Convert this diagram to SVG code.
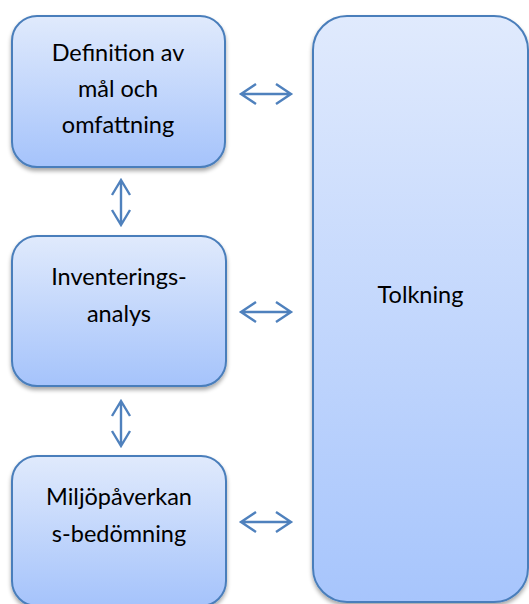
<svg xmlns="http://www.w3.org/2000/svg" width="529" height="604" viewBox="0 0 529 604">
  <style>
    .box { stroke: #4A7EBB; stroke-width: 2; filter: url(#shadow); }
    .lbl { font-family: Lato, "Open Sans", "Liberation Sans", sans-serif; font-size: 23.5px; fill: #000; text-anchor: middle; }
    .arr { fill: none; stroke: #4F81BD; stroke-width: 2.4; stroke-linecap: butt; stroke-linejoin: miter; }
  </style>
  <defs>
    <linearGradient id="fillSmall" x1="0" y1="0" x2="0" y2="1">
      <stop offset="0" stop-color="#E0EAFC"/>
      <stop offset="1" stop-color="#A5C3FB"/>
    </linearGradient>
    <linearGradient id="fillTall" x1="0" y1="0" x2="0" y2="1">
      <stop offset="0" stop-color="#E0EAFD"/>
      <stop offset="1" stop-color="#A7C5FC"/>
    </linearGradient>
    <filter id="shadow" x="-10%" y="-10%" width="120%" height="125%">
      <feGaussianBlur in="SourceAlpha" stdDeviation="2.2"/>
      <feOffset dx="0" dy="3" result="b"/>
      <feComponentTransfer><feFuncA type="linear" slope="0.35"/></feComponentTransfer>
      <feMerge><feMergeNode/><feMergeNode in="SourceGraphic"/></feMerge>
    </filter>
  </defs>

  <g id="tolkning">
    <rect class="box" x="313" y="16" width="215" height="586" rx="34" fill="url(#fillTall)"/>
    <text class="lbl" x="420.5" y="303">Tolkning</text>
  </g>

  <g id="definition">
    <rect class="box" x="12" y="16" width="213" height="151" rx="25" fill="url(#fillSmall)"/>
    <text class="lbl" x="118" y="61">Definition av</text>
    <text class="lbl" x="118" y="97">mål och</text>
    <text class="lbl" x="118" y="133">omfattning</text>
  </g>

  <g id="inventering">
    <rect class="box" x="12" y="236" width="214" height="150" rx="25" fill="url(#fillSmall)"/>
    <text class="lbl" x="119" y="285">Inventerings-</text>
    <text class="lbl" x="119" y="322">analys</text>
  </g>

  <g id="miljopaverkan">
    <rect class="box" x="12" y="456" width="214" height="150" rx="25" fill="url(#fillSmall)"/>
    <text class="lbl" x="119" y="505">Miljöpåverkan</text>
    <text class="lbl" x="119" y="542">s-bedömning</text>
  </g>

  <g id="connectors">
    <!-- horizontal double arrows towards Tolkning -->
    <path class="arr" d="M241 94 H291 M256 84 L241 94 L256 104 M276 84 L291 94 L276 104"/>
    <path class="arr" d="M241 312 H291 M256 302 L241 312 L256 322 M276 302 L291 312 L276 322"/>
    <path class="arr" d="M241 522 H291 M256 512 L241 522 L256 532 M276 512 L291 522 L276 532"/>
    <!-- vertical double arrows between phases -->
    <path class="arr" d="M121 180 V225 M112 195 L121 180 L130 195 M112 210 L121 225 L130 210"/>
    <path class="arr" d="M121 401 V446 M112 416 L121 401 L130 416 M112 431 L121 446 L130 431"/>
  </g>
</svg>
